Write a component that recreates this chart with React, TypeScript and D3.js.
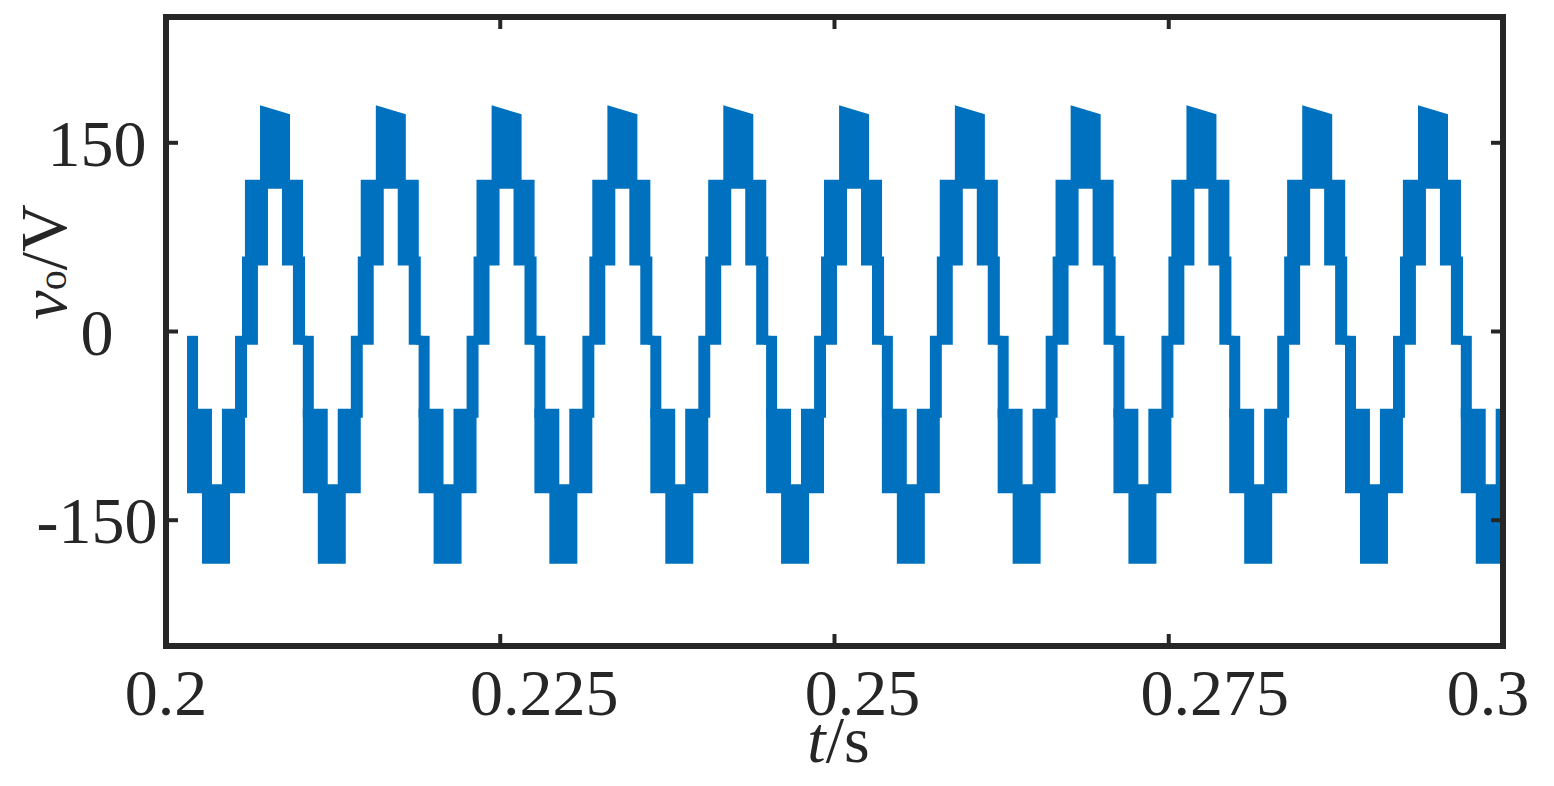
import React, { useRef, useEffect } from 'react'
import * as d3 from 'd3'

// start of each cycle (s)
const cycleStarts = [0.20157, 0.21023, 0.21889, 0.22755, 0.23622, 0.24488, 0.25354, 0.2622, 0.27086, 0.27952, 0.28818, 0.29684]

// switching bands inside one cycle: offsets in ms from the cycle start, levels in V
const bandFrom = [0.34, 0.34, 1.46, 2.95, 3.93, 4.15, 4.45, 4.67, 5.8, 7.44, 8.26, 8.49]
const bandTo = [0.49, 1.53, 2.88, 4.0, 4.15, 4.45, 4.97, 5.72, 7.37, 8.34, 8.49, 9.01]
const bandLow = [-65, -125, -181, -125, -65, -7, -7, 56, 117, 56, -7, -7]
const bandHigh = [-7, -65, -125, -65, -7, -7, 56, 117, 175, 117, 56, -7]
const bandHighEnd = [-7, -65, -125, -65, -7, -7, 56, 117, 170, 117, 56, -7]

const xTicks = [0.2, 0.225, 0.25, 0.275, 0.3]
const xTickLabels = ['0.2', '0.225', '0.25', '0.275', '0.3']
const yTicks = [-150, 0, 150]
const yTickLabels = ['-150', '0', '150']

export default function App() {
  const ref = useRef<SVGSVGElement | null>(null)

  useEffect(() => {
    const el = ref.current
    if (!el) return
    const width = 1554
    const height = 786
    const m = { left: 166, right: 51, top: 17, bottom: 140 }
    const ink = '#262626'
    const blue = '#0071BE'
    const font = '"Liberation Serif", "Times New Roman", serif'

    const svg = d3.select(el)
    svg.selectAll('*').remove()

    const x = d3.scaleLinear().domain([0.2, 0.3]).range([m.left, width - m.right])
    const y = d3.scaleLinear().domain([-250, 250]).range([height - m.bottom, m.top])

    svg.append('clipPath').attr('id', 'plot-clip')
      .append('rect')
      .attr('x', m.left).attr('y', m.top)
      .attr('width', width - m.left - m.right)
      .attr('height', height - m.top - m.bottom)

    // build bands for every cycle
    const bands: { t1: number; t2: number; lo: number; hi: number; hiEnd: number }[] = []
    cycleStarts.forEach(t0 => {
      bandFrom.forEach((f, i) => {
        bands.push({
          t1: t0 + f / 1000,
          t2: t0 + bandTo[i] / 1000,
          lo: bandLow[i],
          hi: bandHigh[i],
          hiEnd: bandHighEnd[i],
        })
      })
    })

    const shape = d3.line<[number, number]>().x(d => x(d[0])).y(d => y(d[1]))

    svg.append('g').attr('clip-path', 'url(#plot-clip)')
      .selectAll('path')
      .data(bands)
      .join('path')
      .attr('d', b => shape([[b.t1, b.lo], [b.t2, b.lo], [b.t2, b.hiEnd], [b.t1, b.hi]]) + 'Z')
      .attr('fill', blue)
      .attr('stroke', blue)
      .attr('stroke-width', 9)
      .attr('stroke-linejoin', 'miter')

    // ticks on all four sides, pointing inward
    const tl = 12
    const tg = svg.append('g').attr('stroke', ink).attr('stroke-width', 4)
    xTicks.forEach(t => {
      tg.append('line').attr('x1', x(t)).attr('x2', x(t)).attr('y1', m.top).attr('y2', m.top + tl)
      tg.append('line').attr('x1', x(t)).attr('x2', x(t)).attr('y1', height - m.bottom).attr('y2', height - m.bottom - tl)
    })
    yTicks.forEach(v => {
      tg.append('line').attr('x1', m.left).attr('x2', m.left + tl).attr('y1', y(v)).attr('y2', y(v))
      tg.append('line').attr('x1', width - m.right).attr('x2', width - m.right - tl).attr('y1', y(v)).attr('y2', y(v))
    })

    // box
    svg.append('rect')
      .attr('x', m.left).attr('y', m.top)
      .attr('width', width - m.left - m.right)
      .attr('height', height - m.top - m.bottom)
      .attr('fill', 'none')
      .attr('stroke', ink)
      .attr('stroke-width', 6)

    // tick labels (placed as in the figure, not strictly centred)
    const xNudge = [0, 44, 28, 46, -15]
    svg.append('g')
      .selectAll('text')
      .data(xTicks)
      .join('text')
      .attr('x', (t, i) => x(t) + xNudge[i])
      .attr('y', height - m.bottom + 69)
      .attr('text-anchor', 'middle')
      .attr('font-family', font)
      .attr('font-size', 66)
      .attr('fill', ink)
      .text((t, i) => xTickLabels[i])

    svg.append('g')
      .selectAll('text')
      .data(yTicks)
      .join('text')
      .attr('x', 97)
      .attr('y', v => y(v) + 23)
      .attr('text-anchor', 'middle')
      .attr('font-family', font)
      .attr('font-size', 66)
      .attr('fill', ink)
      .text((v, i) => yTickLabels[i])

    // axis titles
    const xt = svg.append('text')
      .attr('x', x(0.25) + 4)
      .attr('y', height - m.bottom + 116)
      .attr('text-anchor', 'middle')
      .attr('font-family', font)
      .attr('font-size', 66)
      .attr('fill', ink)
    xt.append('tspan').attr('font-style', 'italic').text('t')
    xt.append('tspan').text('/s')

    const yt = svg.append('text')
      .attr('transform', 'translate(66,262) rotate(-90)')
      .attr('text-anchor', 'middle')
      .attr('font-family', font)
      .attr('font-size', 66)
      .attr('fill', ink)
    yt.append('tspan').attr('font-style', 'italic').text('v')
    yt.append('tspan').attr('font-size', 40).text('o')
    yt.append('tspan').text('/V')
  }, [])

  return (
    <svg ref={ref} width={1554} height={786}
      style={{ position: 'absolute', left: 0, top: 0, background: '#fff' }} />
  )
}
